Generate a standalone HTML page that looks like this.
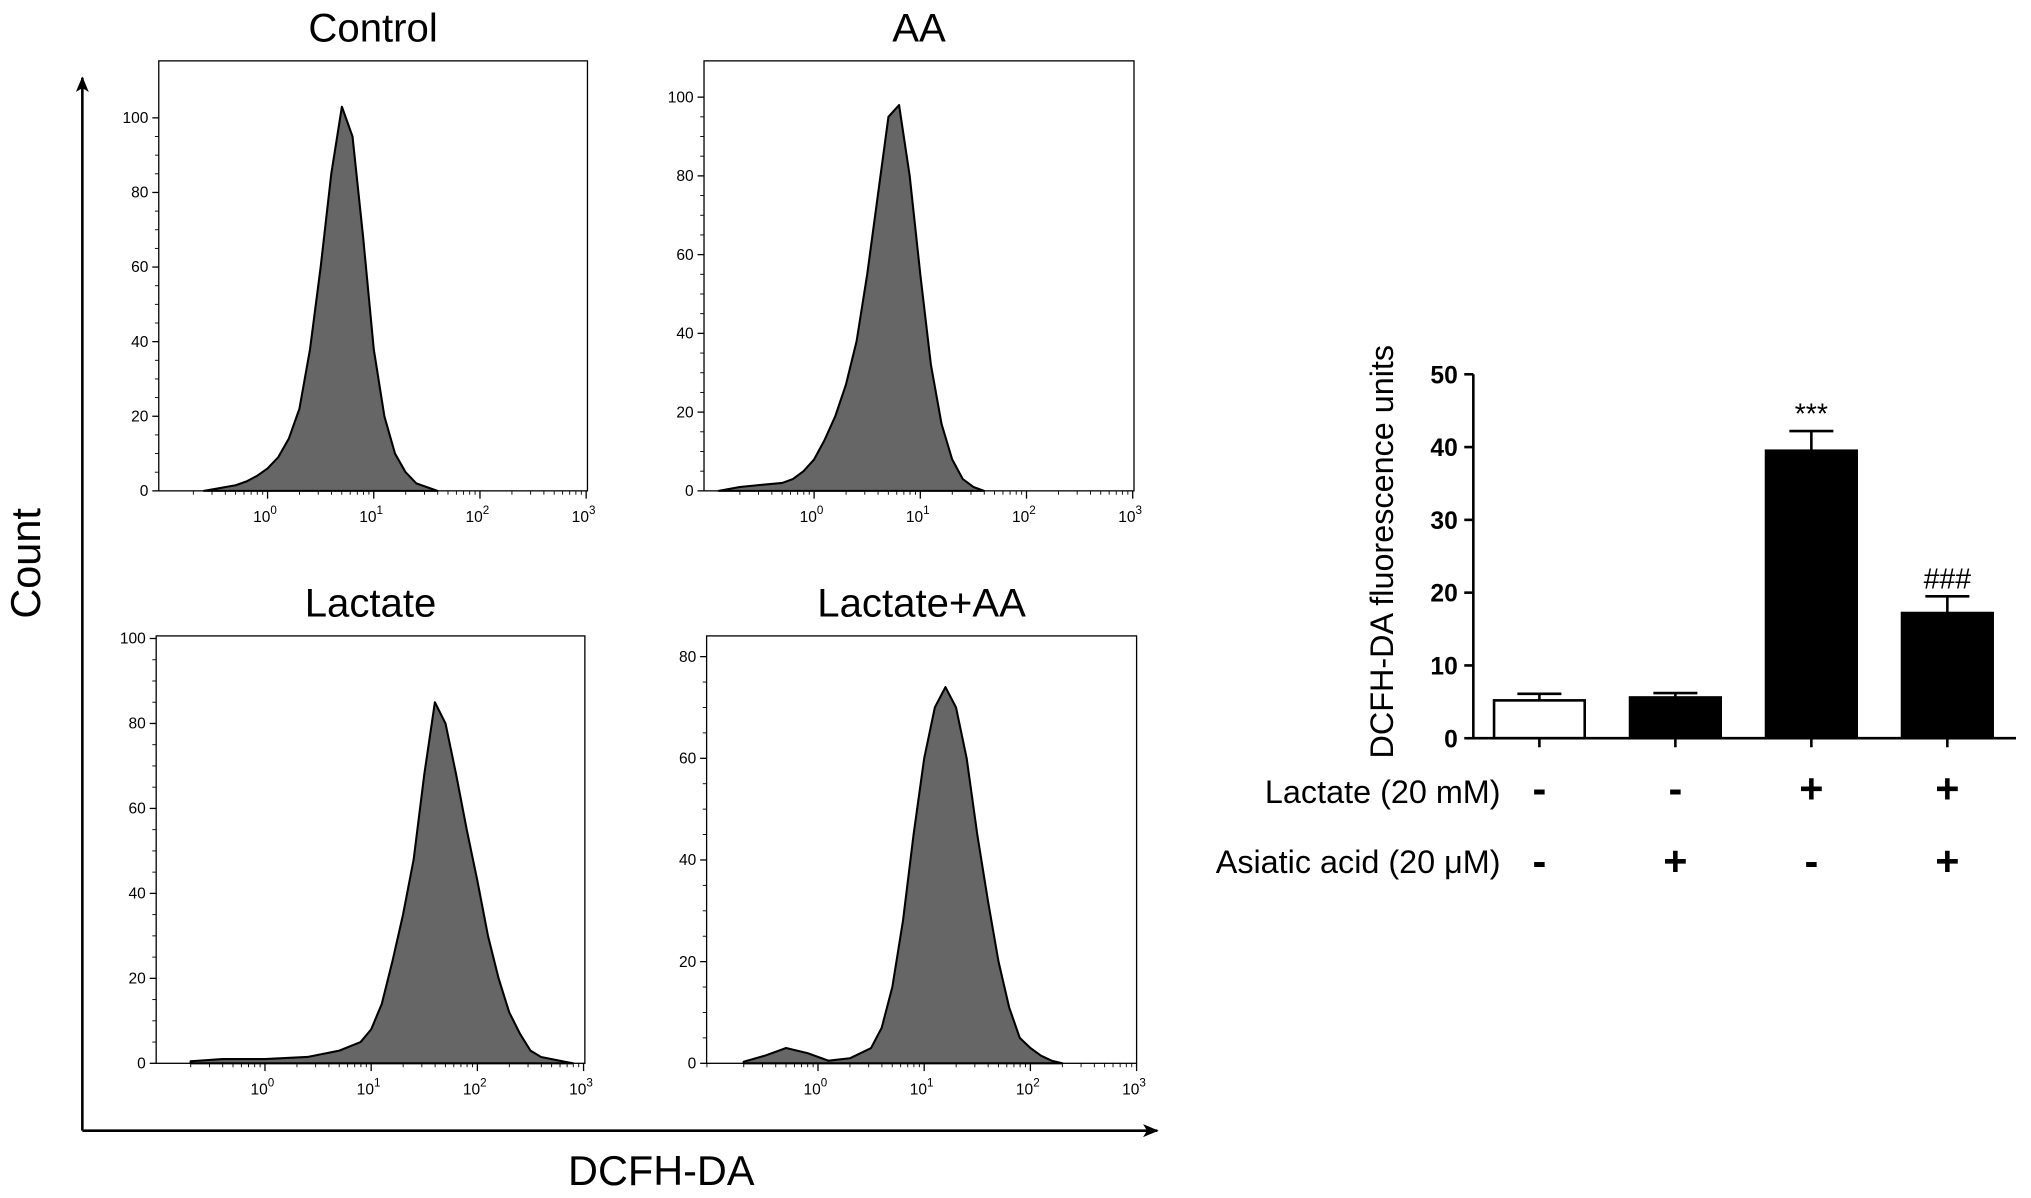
<!DOCTYPE html>
<html><head><meta charset="utf-8">
<style>
html,body{margin:0;padding:0;background:#fff;}
svg{display:block;font-family:"Liberation Sans",Arial,sans-serif;}
</style></head>
<body>
<svg id="fig" width="2031" height="1198" viewBox="0 0 1567 925" xmlns="http://www.w3.org/2000/svg">
<defs>
<marker id="arr" markerWidth="12" markerHeight="10" refX="11" refY="5" orient="auto" markerUnits="userSpaceOnUse">
<path d="M0,0 L12,5 L0,10 L3,5 Z" fill="#000"/>
</marker>
</defs>
<g>
<line x1="63" y1="873" x2="63" y2="60" stroke="#000" stroke-width="2" marker-end="url(#arr)"/>
<line x1="63" y1="873" x2="893" y2="873" stroke="#000" stroke-width="2" marker-end="url(#arr)"/>
<text x="22" y="435" font-size="32" text-anchor="middle" transform="rotate(-90 22 435)" dominant-baseline="middle">Count</text>
<text x="510" y="915" font-size="32" text-anchor="middle">DCFH-DA</text>
</g>
<g id="hists"></g>
<g id="bars"></g>
</svg>
<script>
// ---- Histogram data (log10 intensity, count) ----
const ctrlLog = [-0.6,-0.5,-0.4,-0.3,-0.2,-0.1,0,0.1,0.2,0.3,0.4,0.5,0.6,0.7,0.8,0.9,1.0,1.1,1.2,1.3,1.4,1.5,1.6];
const ctrlCount = [0,0.5,1,1.5,2.5,4,6,9,14,22,38,60,85,103,95,68,38,20,10,5,2,1,0];
const aaLog = [-0.9,-0.7,-0.5,-0.3,-0.2,-0.1,0,0.1,0.2,0.3,0.4,0.5,0.6,0.7,0.8,0.9,1.0,1.1,1.2,1.3,1.4,1.5,1.6];
const aaCount = [0,1,1.5,2,3,5,8,13,19,27,38,55,75,95,98,80,55,32,17,8,3,1,0];
const lacLog = [-0.7,-0.4,0,0.4,0.7,0.9,1.0,1.1,1.2,1.3,1.4,1.5,1.6,1.7,1.8,1.9,2.0,2.1,2.2,2.3,2.4,2.5,2.6,2.8,2.9];
const lacCount = [0.5,1,1,1.5,3,5,8,14,24,35,48,68,85,80,68,55,43,30,20,12,7,3,1.5,0.5,0];
const laaLog = [-0.7,-0.5,-0.3,-0.1,0.1,0.3,0.5,0.6,0.7,0.8,0.9,1.0,1.1,1.2,1.3,1.4,1.5,1.6,1.7,1.8,1.9,2.0,2.1,2.2,2.3];
const laaCount = [0.3,1.5,3,2,0.5,1,3,7,15,28,45,60,70,74,70,60,45,32,20,11,5,3,1.5,0.5,0];
const histYTicks1 = [0,20,40,60,80,100];
const histYTicks2 = [0,20,40,60,80];
const xDecades = [0,1,2,3];

// ---- Bar chart data ----
const barGroups = ["control","asiatic-acid","lactate","lactate-asiatic-acid"];
const barValues = [5.2,5.6,39.5,17.2];
const barErrors = [0.9,0.6,2.7,2.3];
const barFills = ["#fff","#000","#000","#000"];
const barAnnot = ["","","***","###"];
const lactateSigns = ["-","-","+","+"];
const asiaticSigns = ["-","+","-","+"];
const barYTicks = [0,10,20,30,40,50];

const NS="http://www.w3.org/2000/svg";
function mk(tag,attrs,parent){const e=document.createElementNS(NS,tag);for(const k in attrs)e.setAttribute(k,attrs[k]);parent.appendChild(e);return e;}

const panels=[
 {name:"control",title:"Control",x0:122,x1:453,y0:47,y1:379,ymax:100,yTop:91,dec0:206,logs:ctrlLog,counts:ctrlCount,ticks:histYTicks1},
 {name:"aa",title:"AA",x0:543,x1:875,y0:47,y1:379,ymax:100,yTop:75,dec0:628,logs:aaLog,counts:aaCount,ticks:histYTicks1},
 {name:"lactate",title:"Lactate",x0:120,x1:451,y0:491,y1:821,ymax:100,yTop:493,dec0:204,logs:lacLog,counts:lacCount,ticks:histYTicks1},
 {name:"lactate-aa",title:"Lactate+AA",x0:545,x1:877,y0:491,y1:821,ymax:80,yTop:507,dec0:631,logs:laaLog,counts:laaCount,ticks:histYTicks2}
];
const hg=document.getElementById('hists');
panels.forEach(p=>{
  const g=mk('g',{},hg);
  
  
  const dec=82;
  const xs=l=>p.dec0+l*dec;
  const ys=v=>p.y1-(v/p.ymax)*(p.y1-p.yTop);
  const t=mk('text',{x:(p.x0+p.x1)/2,y:p.y0-15,'font-size':31,'text-anchor':'middle'},g);
  t.textContent=p.title;
  
  
  let d='M'+xs(p.logs[0])+','+p.y1;
  p.logs.forEach((l,i)=>{d+=' L'+xs(l).toFixed(1)+','+ys(p.counts[i]).toFixed(1);});
  d+=' L'+xs(p.logs[p.logs.length-1])+','+p.y1+' Z';
  const h=mk('path',{d:d,fill:'#666',stroke:'#000','stroke-width':1.6,'stroke-linejoin':'round'},g);
  
  
  const r=mk('rect',{x:p.x0,y:p.y0,width:p.x1-p.x0,height:p.y1-p.y0,fill:'none',stroke:'#000','stroke-width':1},g);
  
  
  p.ticks.forEach(v=>{
    const y=ys(v);
    mk('line',{x1:p.x0-5,y1:y,x2:p.x0,y2:y,stroke:'#000'},g);
    const tt=mk('text',{x:p.x0-8,y:y+4,'font-size':12,'text-anchor':'end'},g);
    tt.textContent=v;
    
    
    if(v<p.ymax){for(let k=1;k<4;k++){const ym=ys(v+k*(p.ticks[1]/4));mk('line',{x1:p.x0-3,y1:ym,x2:p.x0,y2:ym,stroke:'#000','stroke-width':0.7},g);}}
  });
  xDecades.forEach(dd=>{
    const x=xs(dd);
    mk('line',{x1:x,y1:p.y1,x2:x,y2:p.y1+6,stroke:'#000'},g);
    const tt=mk('text',{x:x-2,y:p.y1+24,'font-size':12,'text-anchor':'middle'},g);
    tt.innerHTML='10<tspan dy="-6" font-size="9">'+dd+'</tspan>';
    
    
  });
  for(let dd=-2;dd<3;dd++){for(let m=2;m<10;m++){const x=xs(dd+Math.log10(m));if(x>p.x0&&x<p.x1)mk('line',{x1:x,y1:p.y1,x2:x,y2:p.y1+3,stroke:'#000','stroke-width':0.7},g);}}
});

// ---- bar chart ----
const bg=document.getElementById('bars');


const bx0=1137,by0=570,byTop=289,bmax=50;
const byS=v=>by0-(v/bmax)*(by0-byTop);
const bxS=i=>1188+i*105;
const bw=70;
barValues.forEach((v,i)=>{
  const cx=bxS(i);
  const eTop=byS(v+barErrors[i]);
  mk('line',{x1:cx,y1:byS(v),x2:cx,y2:eTop,stroke:'#000','stroke-width':2},bg);
  mk('line',{x1:cx-17,y1:eTop,x2:cx+17,y2:eTop,stroke:'#000','stroke-width':2},bg);
  const b=mk('rect',{x:cx-bw/2,y:byS(v),width:bw,height:by0-byS(v),fill:barFills[i],stroke:'#000','stroke-width':2},bg);
  
  
  if(barAnnot[i]){const a=mk('text',{x:cx,y:eTop-6,'font-size':22,'text-anchor':'middle'},bg);a.textContent=barAnnot[i];
    
    }
  mk('line',{x1:cx,y1:by0,x2:cx,y2:by0+7,stroke:'#000','stroke-width':2},bg);
  const s1=mk('text',{x:cx,y:620,'font-size':32,'text-anchor':'middle','font-weight':'bold'},bg);s1.textContent=lactateSigns[i];
  
  
  const s2=mk('text',{x:cx,y:676,'font-size':32,'text-anchor':'middle','font-weight':'bold'},bg);s2.textContent=asiaticSigns[i];
  
  
});
mk('line',{x1:bx0,y1:byTop,x2:bx0,y2:by0+1,stroke:'#000','stroke-width':2},bg);
mk('line',{x1:bx0-1,y1:by0,x2:1556,y2:by0,stroke:'#000','stroke-width':2},bg);
barYTicks.forEach(v=>{
  const y=byS(v);
  mk('line',{x1:bx0-7,y1:y,x2:bx0,y2:y,stroke:'#000','stroke-width':2},bg);
  const t=mk('text',{x:bx0-12,y:y+7,'font-size':19,'font-weight':'bold','text-anchor':'end'},bg);t.textContent=v;
  
  
});
const yt=mk('text',{x:1075,y:426,'font-size':25,'text-anchor':'middle',transform:'rotate(-90 1075 426)'},bg);
yt.textContent='DCFH-DA fluorescence units';


const l1=mk('text',{x:1158,y:620,'font-size':25,'text-anchor':'end'},bg);l1.textContent='Lactate (20 mM)';


const l2=mk('text',{x:1158,y:674,'font-size':25,'text-anchor':'end'},bg);l2.textContent='Asiatic acid (20 μM)';


</script>
</body></html>
